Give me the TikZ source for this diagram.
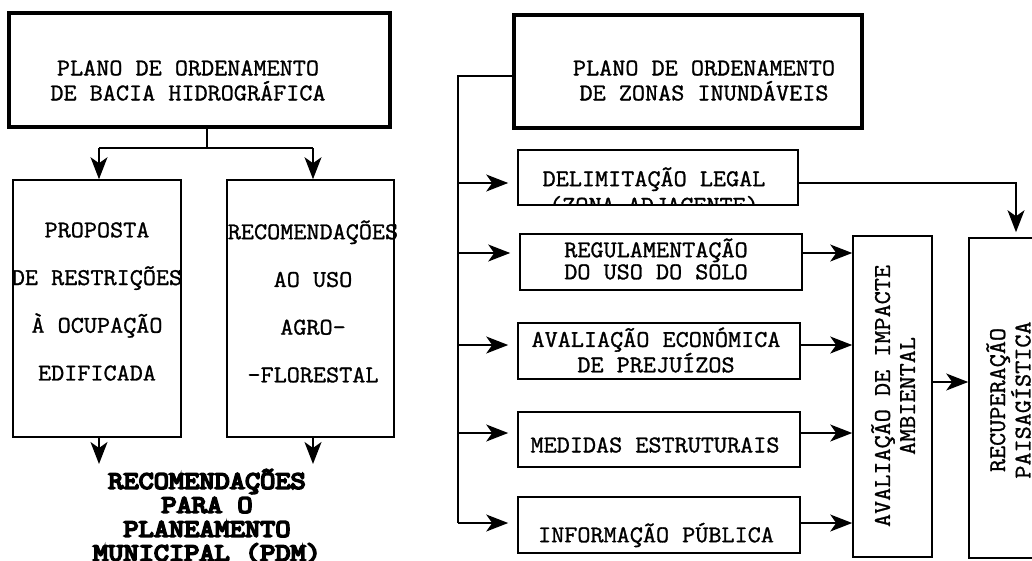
\documentclass[tikz,border=0pt]{standalone}
\usepackage{fontspec}
\usetikzlibrary{arrows.meta}
\newfontfamily\regfont{Latin Modern Mono}[FakeStretch=1.06,FakeBold=1.2]
\newfontfamily\heavyfont{Latin Modern Mono}[FakeStretch=1.18,FakeBold=7]
\tikzset{
  box/.style={draw, line width=1.6pt, inner sep=0pt},
  bigbox/.style={draw, line width=4pt, inner sep=0pt},
  txt/.style={inner sep=0pt, align=center, font=\regfont\fontsize{24}{25}\selectfont},
  conn/.style={line width=1.5pt},
  arr/.style={conn, -{Stealth[length=22pt, width=17pt, inset=6pt]}}
}
\begin{document}
\begin{tikzpicture}[x=1pt,y=-1pt]
\useasboundingbox (0,0) rectangle (1032,560);
\clip (0,0) rectangle (1032,560);
% ---------------- left part
\node[bigbox, minimum width=381, minimum height=114] (bacia) at (199.5,70) {};
\node[txt] (baciaT) at (188,80.5) {PLANO DE ORDENAMENTO\\DE BACIA HIDROGRÁFICA};
\node[box, minimum width=168, minimum height=257] (restr) at (97,308.5) {};
\node[box, minimum width=167, minimum height=257] (agro) at (310.5,308.5) {};
\node[txt, font=\regfont\fontsize{24}{47.7}\selectfont] (restrT) at (97,301.5) {PROPOSTA\\DE RESTRIÇÕES\\À OCUPAÇÃO\\EDIFICADA};
\node[txt, font=\regfont\fontsize{24}{47.7}\selectfont] (agroT) at (313,301.5) {RECOMENDAÇÕES\\AO USO\\AGRO-\\-FLORESTAL};
\node[inner sep=0pt, align=center, font=\heavyfont\fontsize{25}{24}\selectfont] (pdm) at (207,516) {RECOMENDAÇÕES\\PARA O\\PLANEAMENTO\\MUNICIPAL (PDM)};
\coordinate (split) at (207,148);
\coordinate (jl) at (99,148);
\coordinate (jr) at (313,148);
\draw[conn] (bacia.south -| split) -- (split);
\draw[conn] (jl) -- (jr);
\draw[arr] (jl) -- (jl |- restr.north);
\draw[arr] (jr) -- (jr |- agro.north);
\draw[arr, shorten >=5pt] (restr.south -| jl) -- (jl |- pdm.north);
\draw[arr, shorten >=5pt] (agro.south -| jr) -- (jr |- pdm.north);
% ---------------- right part
\node[bigbox, minimum width=348, minimum height=113] (zonas) at (688,71.5) {};
\node[txt] (zonasT) at (704,80.5) {PLANO DE ORDENAMENTO\\DE ZONAS INUNDÁVEIS};
\begin{scope}
\clip (518,150) rectangle (798,204);
\node[txt, font=\regfont\fontsize{24}{26.5}\selectfont] (delimT) at (654,191) {DELIMITAÇÃO LEGAL\\(ZONA ADJACENTE)};
\end{scope}
\node[box, minimum width=280, minimum height=55] (delim) at (658,177.5) {};
\node[box, minimum width=282, minimum height=56] (regul) at (661,262) {};
\node[txt, font=\regfont\fontsize{24}{22}\selectfont] (regulT) at (656,259) {REGULAMENTAÇÃO\\DO USO DO SOLO};
\node[box, minimum width=282, minimum height=56] (econ) at (659,351) {};
\node[txt, font=\regfont\fontsize{24}{24}\selectfont] (econT) at (656,350) {AVALIAÇÃO ECONÓMICA\\DE PREJUÍZOS};
\node[box, minimum width=282, minimum height=55] (medid) at (659,439.5) {};
\node[txt] (medidT) at (655,445) {MEDIDAS ESTRUTURAIS};
\node[box, minimum width=282, minimum height=56] (info) at (659,525) {};
\node[txt] (infoT) at (656,535) {INFORMAÇÃO PÚBLICA};
\node[box, minimum width=79, minimum height=321] (impacte) at (892.5,396.5) {};
\node[txt, rotate=90] (impacteT) at (893,396) {AVALIAÇÃO DE IMPACTE\\AMBIENTAL};
\node[box, minimum width=81, minimum height=320] (recup) at (1009.5,398) {};
\node[txt, rotate=90, font=\regfont\fontsize{24}{23}\selectfont] (recupT) at (1008.5,400) {RECUPERAÇÃO\\PAISAGÍSTICA};
% bus
\coordinate (bt) at (458,76);
\coordinate (bb) at (458,523);
\draw[conn] (zonas.west |- bt) -- (bt) -- (bb);
\coordinate (a1) at ([yshift=-5.5pt]delim.west);
\coordinate (a2) at ([yshift=9pt]regul.west);
\coordinate (a3) at ([yshift=6pt]econ.west);
\coordinate (a4) at ([yshift=6.5pt]medid.west);
\coordinate (a5) at ([yshift=2pt]info.west);
\foreach \a in {a1,a2,a3,a4,a5}{
  \draw[arr, shorten >=9pt] (\a -| bt) -- (\a);
}
\coordinate (r2) at ([yshift=9pt]regul.east);
\coordinate (r3) at ([yshift=6pt]econ.east);
\coordinate (r4) at ([yshift=6.5pt]medid.east);
\coordinate (r5) at ([yshift=2pt]info.east);
\foreach \r in {r2,r3,r4,r5}{
  \draw[arr] (\r) -- (\r -| impacte.west);
}
\coordinate (rx) at (1016,183);
\draw[arr, shorten >=5pt] (delim.east |- rx) -- (rx) -- (rx |- recup.north);
\coordinate (ie) at ([yshift=14.5pt]impacte.east);
\draw[arr] (ie) -- (ie -| recup.west);
\end{tikzpicture}
\end{document}
